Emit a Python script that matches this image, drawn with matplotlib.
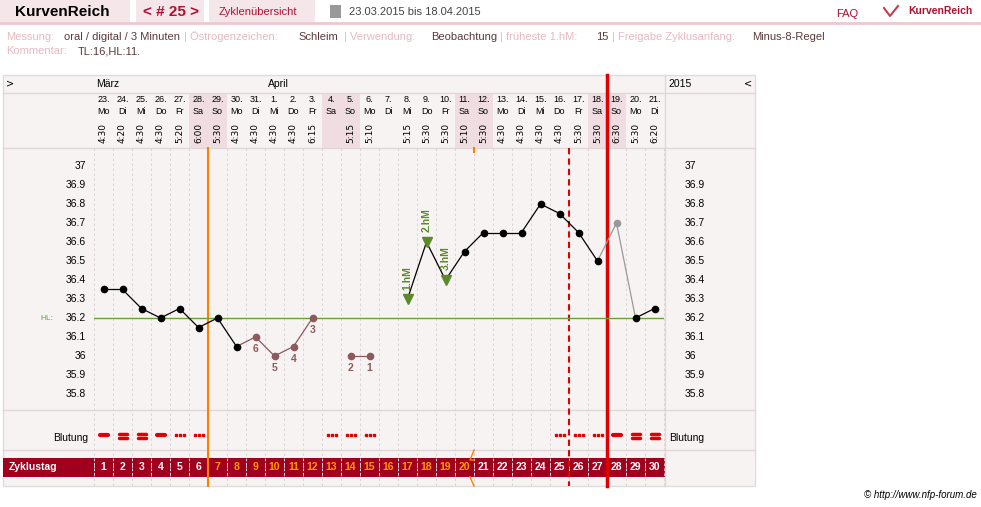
import matplotlib
matplotlib.use("Agg")
import matplotlib.pyplot as plt
from matplotlib.patches import Rectangle
import numpy as np

W, H = 981, 507
days = list(range(1, 31))
dates = ["23.","24.","25.","26.","27.","28.","29.","30.","31.","1.","2.","3.","4.","5.","6.","7.","8.","9.","10.","11.","12.","13.","14.","15.","16.","17.","18.","19.","20.","21."]
weekdays = ["Mo","Di","Mi","Do","Fr","Sa","So","Mo","Di","Mi","Do","Fr","Sa","So","Mo","Di","Mi","Do","Fr","Sa","So","Mo","Di","Mi","Do","Fr","Sa","So","Mo","Di"]
times = ["4:30","4:20","4:30","4:30","5:20","6:00","5:30","4:30","4:30","4:30","4:30","6:15","","5:15","5:10","","5:15","5:30","5:30","5:10","5:30","4:30","4:30","4:30","4:30","5:30","5:30","6:30","5:30","6:20"]
temps = [36.35,36.35,36.25,36.2,36.25,36.15,36.2,36.05,36.1,36.0,36.05,36.2,None,36.0,36.0,None,36.3,36.6,36.4,36.55,36.65,36.65,36.65,36.8,36.75,36.65,36.5,36.7,36.2,36.25]
excluded = {9:"6",10:"5",11:"4",12:"3",14:"2",15:"1"}
hm_days = {17:"1.hM",18:"2.hM",19:"3.hM"}
bleeding = {1:"s",2:"d",3:"d",4:"s",5:"t",6:"t",13:"t",14:"t",15:"t",25:"t",26:"t",27:"t",28:"s",29:"d",30:"d"}
yticks = [37,36.9,36.8,36.7,36.6,36.5,36.4,36.3,36.2,36.1,36,35.9,35.8]

fig = plt.figure(figsize=(W/100, H/100), dpi=100)
bg = fig.add_axes([0, 0, 1, 1])
bg.set_xlim(0, W); bg.set_ylim(H, 0); bg.axis("off")

RED = "#a0001e"; PINK = "#f5e6ea"; LAB = "#e8b8c2"; DARK = "#5a3a3a"
for x0, x1 in [(0, 130), (136, 204), (209, 315)]:
    bg.add_patch(Rectangle((x0, 0), x1-x0, 22, color=PINK, lw=0))
bg.plot([0, W], [23, 23], color="#ecc8d0", lw=2)
bg.text(15, 12, "KurvenReich", fontsize=11, va="center", family="Liberation Sans", fontweight="bold")
bg.text(143, 12, "< # 25 >", fontsize=11, va="center", color="#b01030", fontweight="bold", family="Liberation Sans")
bg.text(219, 12, "Zyklenübersicht", fontsize=8, va="center", color="#b01030", family="Liberation Sans")
bg.text(349, 12, "23.03.2015 bis 18.04.2015", fontsize=8, va="center", color="#444", family="Liberation Sans")
bg.add_patch(Rectangle((330, 5), 11, 13, color="#999", lw=0))
bg.text(836, 14, "FAQ", fontsize=8, va="center", color="#b01030", family="Liberation Sans")
bg.text(908, 11, "KurvenReich", fontsize=7.5, va="center", color="#b01030", fontweight="bold", family="Liberation Sans")
bg.plot([884, 890, 898], [8, 16, 6], color="#c04050", lw=1.5)
row = [("Messung:", LAB), ("oral / digital / 3 Minuten", DARK), ("| Östrogenzeichen:", LAB), ("Schleim", DARK),
       ("| Verwendung:", LAB), ("Beobachtung", DARK), ("| früheste 1.hM:", LAB), ("15", DARK),
       ("| Freigabe Zyklusanfang:", LAB), ("Minus-8-Regel", DARK)]
xs = [6, 64, 184, 298, 344, 431, 500, 596, 612, 752]
for (t, c), xx in zip(row, xs):
    bg.text(xx, 37, t, fontsize=8, va="center", color=c, family="Liberation Sans")
bg.text(6, 51, "Kommentar:", fontsize=8, va="center", color=LAB, family="Liberation Sans")
bg.text(78, 51, "TL:16,HL:11.", fontsize=8, va="center", color=DARK, family="Liberation Sans")

bg.add_patch(Rectangle((3, 75), 752, 411, facecolor="#f8f3f3", edgecolor="#ddd", lw=1))
for yy in [93, 148, 410, 450]:
    bg.plot([3, 755], [yy, yy], color="#e0d8d8", lw=1)
bg.plot([665, 665], [75, 486], color="#e0d8d8", lw=1)
def cx(d): return 94 + (d - 0.5) * 19
for i, d in enumerate(days):
    if weekdays[i] in ("Sa", "So"):
        bg.add_patch(Rectangle((94 + (d-1)*19, 93), 19, 55, color="#f0dde2", lw=0))
    bg.text(cx(d), 100, dates[i], fontsize=6.5, ha="center", va="center", family="Liberation Sans")
    bg.text(cx(d), 111, weekdays[i], fontsize=6.5, ha="center", va="center", family="Liberation Sans")
    if times[i]:
        bg.text(cx(d), 133, times[i], fontsize=6.5, ha="center", va="center", rotation=90, family="DejaVu Sans")
for k in range(31):
    xx = 94 + k*19
    bg.plot([xx, xx], [148, 486], color="#d8d0d0", lw=0.6, ls=(0, (3, 3)))
bg.text(6, 84, ">", fontsize=7, va="center")
bg.text(96, 84, "März", fontsize=7.5, va="center", family="Liberation Sans")
bg.text(268, 84, "April", fontsize=7.5, va="center", family="Liberation Sans")
bg.text(668, 84, "2015", fontsize=7.5, va="center", family="Liberation Sans")
bg.text(744, 84, "<", fontsize=7, va="center")

bg.add_patch(Rectangle((3, 458), 752, 19, color=RED, lw=0))
bg.add_patch(Rectangle((665, 458), 90, 19, color="#f8f3f3", lw=0))
bg.text(9, 467.5, "Zyklustag", fontsize=7.5, va="center", color="white", fontweight="bold", family="Liberation Sans")
for d in days:
    c = "#ff9a00" if 7 <= d <= 20 else "white"
    bg.text(cx(d), 467.5, str(d), fontsize=7.5, ha="center", va="center", color=c, fontweight="bold", family="Liberation Sans")
    bg.plot([94+(d-1)*19]*2, [459, 476], color="white", lw=0.6, ls=(0, (2, 2)))

bg.text(88, 438, "Blutung", fontsize=7.5, ha="right", va="center", family="Liberation Sans")
bg.text(669, 438, "Blutung", fontsize=7.5, ha="left", va="center", family="Liberation Sans")
for d, kind in bleeding.items():
    c = cx(d)
    if kind == "s":
        bg.plot([c-4, c+4], [435, 435], color="#e00000", lw=3, solid_capstyle="round")
    elif kind == "d":
        for yy in (434, 438):
            bg.plot([c-4, c+4], [yy, yy], color="#e00000", lw=2.5, solid_capstyle="round")
    else:
        bg.plot([c-4, c, c+4], [435]*3, ls="none", marker="s", ms=1.5, color="#e00000")

bg.plot([208, 208], [148, 486], color="#ff8000", lw=1.5)
bg.plot([474, 474], [148, 152], color="#ff8000", lw=1.5)
bg.plot([474, 470, 474], [450, 460, 460], color="#ff8000", lw=1)
bg.plot([470, 474], [477, 486], color="#ff8000", lw=1)
bg.plot([569, 569], [148, 486], color="#e00000", lw=1.5, ls=(0, (3, 2)))
bg.plot([607, 607], [75, 486], color="#e00000", lw=2.5)
bg.text(977, 495, "© http://www.nfp-forum.de", fontsize=7, ha="right", va="center", style="italic", family="Liberation Sans")

def ty(p): return 37 - (p - 166) / 190
ax = fig.add_axes([94/W, 1-410/H, 570/W, 262/H])
ax.set_xlim(0.5, 30.5); ax.set_ylim(ty(410), ty(148)); ax.axis("off")
ax.axhline(36.2, color="#6aa030", lw=1)
bg.text(40, 318, "HL:", fontsize=6, color="#6aa030", va="center", family="Liberation Sans")
for t in yticks:
    lab = ("%g" % t)
    bg.text(86, 166 + (37-t)*190, lab, fontsize=7.5, ha="right", va="center", family="Liberation Sans")
    bg.text(685, 166 + (37-t)*190, lab, fontsize=7.5, ha="left", va="center", family="Liberation Sans")

def seg(a, b, color):
    ax.plot([a, b], [temps[a-1], temps[b-1]], color=color, lw=0.9, zorder=2)
for d in range(1, 8): seg(d, d+1, "black")
for d in range(8, 12): seg(d, d+1, "#8b5a5a")
seg(14, 15, "#8b5a5a")
for d in range(17, 27): seg(d, d+1, "black")
seg(27, 28, "#999"); seg(28, 29, "#999"); seg(29, 30, "black")
for d, t in zip(days, temps):
    if t is None: continue
    if d in hm_days:
        ax.plot(d, t, marker="v", ms=7, color="#5a8a2a", zorder=3)
        ax.text(d, t + 0.05, hm_days[d], rotation=90, fontsize=7.5, fontweight="bold", color="#5a8a2a", ha="center", va="bottom", family="Liberation Sans")
    elif d in excluded:
        ax.plot(d, t, "o", ms=4.5, color="#8b5a5a", zorder=3)
        ax.text(d, t - 0.065, excluded[d], fontsize=7.5, fontweight="bold", color="#8b5a5a", ha="center", va="center", family="Liberation Sans")
    elif d == 28:
        ax.plot(d, t, "o", ms=4.5, color="#999", zorder=3)
    else:
        ax.plot(d, t, "o", ms=4.5, color="black", zorder=3)
fig.savefig("out.png", dpi=100)
